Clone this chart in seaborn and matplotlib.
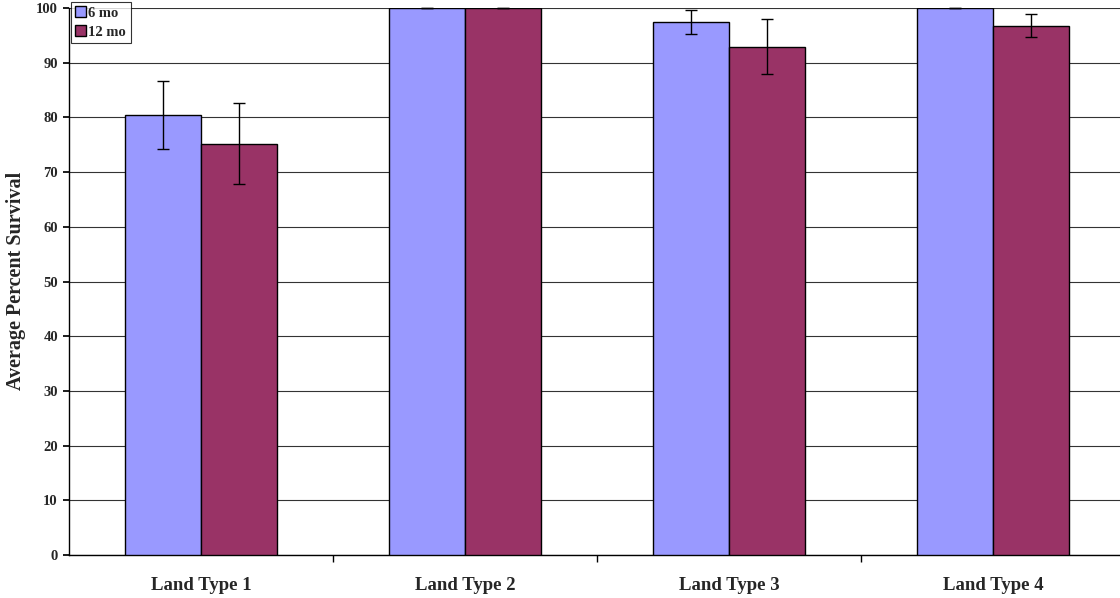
import matplotlib
matplotlib.use("Agg")
import matplotlib.pyplot as plt
import seaborn as sns
import pandas as pd
import numpy as np

categories = ["Land Type 1", "Land Type 2", "Land Type 3", "Land Type 4"]
series_names = ["6 mo", "12 mo"]
vals_6mo = [80.4, 100.0, 97.5, 100.0]
vals_12mo = [75.2, 100.0, 92.9, 96.8]
err_6mo = [6.2, 0.0, 2.2, 0.0]
err_12mo = [7.4, 0.0, 5.0, 2.1]
colors = ["#9999FF", "#993366"]

sns.set_theme(style="white")
plt.rcParams['font.family'] = ['Liberation Serif', 'DejaVu Serif']

df = pd.DataFrame({
    "cat": categories * 2,
    "series": [series_names[0]] * 4 + [series_names[1]] * 4,
    "val": vals_6mo + vals_12mo,
    "err": err_6mo + err_12mo,
})

fig = plt.figure(figsize=(11.2, 5.98), dpi=100)
ax = fig.add_axes([69/1120, 1 - 555/598, 1 - 69/1120, (555 - 8)/598])

sns.barplot(data=df, x="cat", y="val", hue="series", palette=colors,
            errorbar=None, width=0.576, gap=0, edgecolor="black", linewidth=1,
            saturation=1, ax=ax, zorder=3)

# error bars from bar positions
errs = err_6mo + err_12mo
bars = [p for p in ax.patches if p.get_height() > 0][:8]
for p, e in zip(bars, errs):
    cx = p.get_x() + p.get_width() / 2
    h = p.get_height()
    ax.errorbar(cx, h, yerr=e, color="black", capsize=4, elinewidth=1,
                capthick=1, zorder=4, clip_on=False)

ax.set_ylim(0, 100)
ax.set_xlim(-0.5, 3.48)
ax.set_yticks(np.arange(0, 101, 10))
ax.yaxis.grid(True, color="#333333", linewidth=0.8, zorder=0)
ax.set_axisbelow(True)
for s in ["top", "right"]:
    ax.spines[s].set_visible(False)
ax.spines["left"].set_color("black")
ax.spines["bottom"].set_color("black")
ax.spines["left"].set_linewidth(1)
ax.spines["bottom"].set_linewidth(1)

ax.set_xticks(range(4))
ax.set_xticklabels(categories, fontsize=13.5, fontweight="bold")
ax.tick_params(axis="x", length=0, pad=16)
# minor ticks between categories
ax.set_xticks([0.5, 1.5, 2.5], minor=True)
ax.tick_params(axis="x", which="minor", length=5, direction="out", color="black", bottom=True)
ax.tick_params(axis="y", length=4, direction="out", color="black", left=True, labelsize=10.5, pad=4)
for lab in ax.get_yticklabels():
    lab.set_fontweight("bold")

ax.set_xlabel("")
ax.set_ylabel("Average Percent Survival", fontsize=14.5, fontweight="bold",
              va="center", ha="center")
ax.yaxis.set_label_coords(16/1120, 1 - 281/598, transform=fig.transFigure)

leg = ax.legend(loc="upper left", bbox_to_anchor=(71/1120, 1 - 2/598),
                bbox_transform=fig.transFigure, frameon=True, fancybox=False,
                edgecolor="black", prop={"weight": "bold", "size": 10.5},
                handlelength=0.7, handleheight=0.7, handletextpad=0.2,
                borderpad=0.3, labelspacing=0.4, borderaxespad=0)
leg.get_frame().set_linewidth(0.8)
leg.set_zorder(10)

fig.savefig("out.png", dpi=100)
